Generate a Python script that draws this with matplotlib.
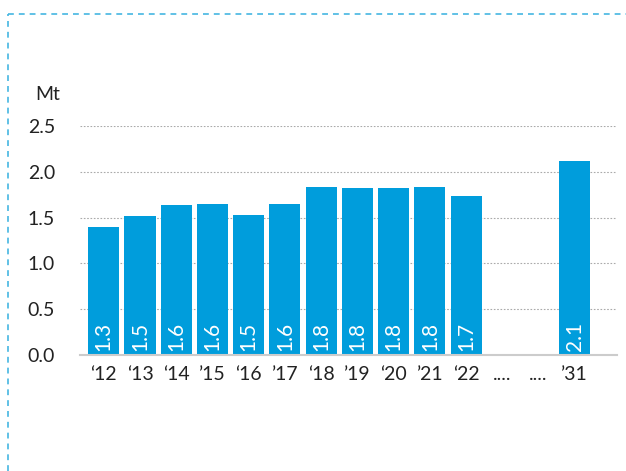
import matplotlib.pyplot as plt
from matplotlib.lines import Line2D

years = ['\u201812', '\u201813', '\u201814', '\u201915', '\u201816', '\u201917', '\u201818',
         '\u201919', '\u201820', '\u201921', '\u201822', '....', '....', '\u201931']
values = [1.40, 1.52, 1.64, 1.65, 1.53, 1.65, 1.83, 1.82, 1.82, 1.83, 1.74, None, None, 2.12]
labels = ['1.3', '1.5', '1.6', '1.6', '1.5', '1.6', '1.8', '1.8', '1.8', '1.8', '1.7', '', '', '2.1']
yticks = [0.0, 0.5, 1.0, 1.5, 2.0, 2.5]

plt.rcParams['font.family'] = ['Lato', 'DejaVu Sans']

fig = plt.figure(figsize=(6.26, 4.71), dpi=100)
ax = fig.add_axes([0.128, 0.246, 0.858, 0.4865])

xs = [i for i, v in enumerate(values) if v is not None]
hs = [v for v in values if v is not None]
ax.bar(xs, hs, width=0.86, color='#009ddc', zorder=3)
for i, v in enumerate(values):
    if v is not None:
        ax.text(i, 0.05, labels[i], rotation=90, ha='center', va='bottom',
                color='white', fontsize=15, zorder=4)

ax.set_xlim(-0.65, len(years) - 1 + 1.17)
ax.set_ylim(0, 2.5)
ax.set_yticks(yticks)
ax.set_yticklabels([f'{t:.1f}' for t in yticks], fontsize=14, color='#222222')
ax.set_xticks(range(len(years)))
ax.set_xticklabels(years, fontsize=14, color='#222222')
ax.tick_params(axis='both', length=0)
ax.tick_params(axis='x', pad=8)
ax.tick_params(axis='y', pad=18)
ax.yaxis.grid(True, linestyle=(0, (1.5, 1.5)), color='#aaaaaa', linewidth=0.8, zorder=0)
for s in ['top', 'right', 'left']:
    ax.spines[s].set_visible(False)
ax.spines['bottom'].set_color('#cccccc')
ax.spines['bottom'].set_linewidth(1.5)
ax.spines['bottom'].set_zorder(5)

fig.text(35 / 626, 1 - 95 / 471, 'Mt', fontsize=14, color='#222222', va='center')

# dashed frame on top and left
fig.add_artist(Line2D([8 / 626, 1], [1 - 14 / 471, 1 - 14 / 471], color='#45b6e2',
                      linestyle=(0, (3.5, 3)), linewidth=1.2))
fig.add_artist(Line2D([8 / 626, 8 / 626], [0, 1 - 14 / 471], color='#45b6e2',
                      linestyle=(0, (3.5, 3)), linewidth=1.2))

fig.savefig('out.png', dpi=100)
